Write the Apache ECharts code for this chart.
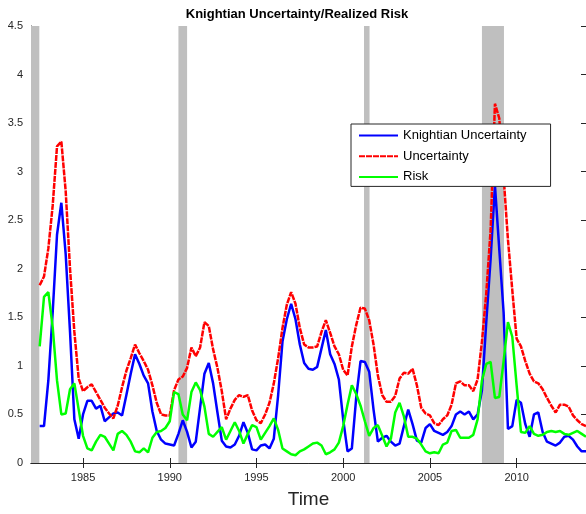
<!DOCTYPE html>
<html>
<head>
<meta charset="utf-8">
<script src="https://cdn.jsdelivr.net/npm/echarts@6/dist/echarts.min.js"></script>
<style>
html,body{margin:0;padding:0;background:#fff;}
#chart{width:586px;height:514px;}
</style>
</head>
<body>
<div id="chart"></div>
<script>
// Quarterly time stamps (decimal years)
var quarters = [
1982.5,1982.75,1983,1983.25,1983.5,1983.75,1984,1984.25,1984.5,1984.75,
1985,1985.25,1985.5,1985.75,1986,1986.25,1986.5,1986.75,1987,1987.25,
1987.5,1987.75,1988,1988.25,1988.5,1988.75,1989,1989.25,1989.5,1989.75,
1990,1990.25,1990.5,1990.75,1991,1991.25,1991.5,1991.75,1992,1992.25,
1992.5,1992.75,1993,1993.25,1993.5,1993.75,1994,1994.25,1994.5,1994.75,
1995,1995.25,1995.5,1995.75,1996,1996.25,1996.5,1996.75,1997,1997.25,
1997.5,1997.75,1998,1998.25,1998.5,1998.75,1999,1999.25,1999.5,1999.75,
2000,2000.25,2000.5,2000.75,2001,2001.25,2001.5,2001.75,2002,2002.25,
2002.5,2002.75,2003,2003.25,2003.5,2003.75,2004,2004.25,2004.5,2004.75,
2005,2005.25,2005.5,2005.75,2006,2006.25,2006.5,2006.75,2007,2007.25,
2007.5,2007.75,2008,2008.25,2008.5,2008.75,2009,2009.25,2009.5,2009.75,
2010,2010.25,2010.5,2010.75,2011,2011.25,2011.5,2011.75,2012,2012.25,
2012.5,2012.75,2013,2013.25,2013.5,2013.75,2014
];

var knightian = [
0.38,0.38,0.85,1.55,2.35,2.68,2.15,1.35,0.45,0.25,
0.50,0.64,0.64,0.56,0.59,0.43,0.47,0.51,0.52,0.49,
0.70,0.92,1.12,1.02,0.90,0.82,0.53,0.33,0.24,0.20,
0.19,0.18,0.30,0.44,0.32,0.16,0.22,0.57,0.92,1.03,
0.82,0.52,0.23,0.17,0.16,0.19,0.28,0.42,0.31,0.14,
0.13,0.18,0.19,0.15,0.25,0.70,1.25,1.48,1.64,1.48,
1.22,1.03,0.97,0.96,0.99,1.18,1.37,1.12,1.02,0.86,
0.45,0.12,0.15,0.67,1.05,1.04,0.94,0.55,0.22,0.26,
0.28,0.22,0.18,0.20,0.38,0.55,0.40,0.23,0.21,0.36,
0.40,0.33,0.31,0.29,0.32,0.38,0.50,0.53,0.50,0.53,
0.45,0.50,0.75,1.45,2.10,2.86,2.20,1.55,0.35,0.38,
0.65,0.62,0.40,0.27,0.50,0.52,0.32,0.22,0.20,0.18,
0.21,0.27,0.28,0.24,0.17,0.12,0.12
];

var uncertainty = [
1.83,1.92,2.21,2.65,3.26,3.31,2.80,2.00,1.35,0.87,
0.74,0.78,0.81,0.73,0.65,0.57,0.51,0.46,0.59,0.78,
0.95,1.08,1.22,1.13,1.05,0.96,0.80,0.62,0.50,0.49,
0.49,0.75,0.86,0.89,0.98,1.19,1.10,1.19,1.45,1.41,
1.17,0.98,0.74,0.45,0.56,0.65,0.70,0.68,0.70,0.54,
0.44,0.41,0.50,0.62,0.82,1.08,1.39,1.63,1.76,1.64,
1.39,1.22,1.19,1.19,1.20,1.35,1.47,1.34,1.20,1.12,
0.96,0.90,1.20,1.42,1.60,1.59,1.47,1.22,0.90,0.70,
0.63,0.63,0.69,0.87,0.93,0.92,0.97,0.80,0.57,0.51,
0.49,0.41,0.39,0.45,0.49,0.60,0.82,0.84,0.80,0.80,
0.74,0.86,1.25,1.75,2.40,3.70,3.55,2.95,2.30,1.78,
1.28,1.20,1.05,0.92,0.84,0.82,0.76,0.67,0.59,0.52,
0.60,0.60,0.58,0.49,0.44,0.40,0.38
];

var risk = [
1.20,1.71,1.76,1.40,0.85,0.50,0.51,0.76,0.82,0.55,
0.28,0.15,0.13,0.22,0.29,0.27,0.20,0.13,0.30,0.33,
0.29,0.22,0.12,0.11,0.15,0.11,0.26,0.32,0.33,0.36,
0.43,0.73,0.71,0.50,0.44,0.73,0.83,0.75,0.58,0.30,
0.27,0.32,0.37,0.24,0.33,0.42,0.33,0.20,0.30,0.39,
0.37,0.24,0.31,0.38,0.46,0.34,0.15,0.12,0.09,0.08,
0.12,0.14,0.17,0.20,0.21,0.18,0.09,0.11,0.14,0.21,
0.38,0.60,0.80,0.71,0.59,0.43,0.28,0.36,0.39,0.28,
0.17,0.25,0.52,0.62,0.48,0.27,0.27,0.25,0.19,0.12,
0.10,0.11,0.10,0.19,0.21,0.33,0.34,0.26,0.26,0.26,
0.29,0.45,0.85,1.02,1.04,0.67,0.68,1.05,1.45,1.30,
0.80,0.32,0.31,0.38,0.30,0.28,0.29,0.32,0.33,0.32,
0.33,0.30,0.29,0.31,0.33,0.30,0.27
];

// Recession periods (start, end) in decimal years
var recessions = [[1982.0, 1982.48], [1990.5, 1991.0], [2001.2, 2001.52], [2008.0, 2009.27]];

var xTickValues = [1985, 1990, 1995, 2000, 2005, 2010];
var seriesNames = ['Knightian Uncertainty', 'Uncertainty', 'Risk'];
var titleText = 'Knightian Uncertainty/Realized Risk';
var xName = 'Time';

function pairs(vals) {
  return vals.map(function (v, i) { return [quarters[i], v]; });
}

var FONT = '"Liberation Sans", Arial, Helvetica, sans-serif';
var AX = '#262626';

var chart = echarts.init(document.getElementById('chart'), null, {renderer: 'canvas'});

var option = {
  animation: false,
  backgroundColor: '#fff',
  textStyle: {fontFamily: FONT},
  graphic: [{
    type: 'text',
    x: 297, y: 14,
    style: {
      text: titleText,
      font: 'bold 13px ' + FONT,
      fill: '#000',
      align: 'center',
      verticalAlign: 'middle'
    }
  }],
  grid: {left: 31, right: -2, top: 26, bottom: 48, containLabel: false},
  legend: {
    data: seriesNames,
    orient: 'vertical',
    left: 351, top: 124,
    backgroundColor: '#fff',
    borderColor: AX,
    borderWidth: 1,
    borderRadius: 0,
    padding: [5, 24, 3, 7],
    itemWidth: 39,
    itemHeight: 14,
    itemGap: 7.7,
    itemStyle: {opacity: 0},
    textStyle: {fontSize: 13, color: '#000', fontFamily: FONT},
    selectedMode: false
  },
  xAxis: [{
    type: 'value',
    min: 1982, max: 2014,
    position: 'bottom',
    name: xName,
    nameLocation: 'middle',
    nameGap: 27,
    nameTextStyle: {fontSize: 19, color: '#262626', fontFamily: FONT},
    axisLine: {show: true, lineStyle: {color: AX, width: 1}},
    axisTick: {show: true, inside: true, length: 5, customValues: xTickValues, lineStyle: {color: AX}},
    axisLabel: {show: true, customValues: xTickValues, margin: 9, fontSize: 11, color: '#262626', fontFamily: FONT,
      formatter: function (v) { return String(v); }},
    splitLine: {show: false}
  }, {
    type: 'value',
    min: 1982, max: 2014,
    position: 'top',
    axisLine: {show: true, lineStyle: {color: AX, width: 1}},
    axisTick: {show: true, inside: true, length: 5, customValues: xTickValues, lineStyle: {color: AX}},
    axisLabel: {show: false},
    splitLine: {show: false}
  }],
  yAxis: [{
    type: 'value',
    min: 0, max: 4.5, interval: 0.5,
    position: 'left',
    axisLine: {show: true, lineStyle: {color: AX, width: 1}},
    axisTick: {show: true, inside: true, length: 5, lineStyle: {color: AX}},
    axisLabel: {show: true, margin: 8, fontSize: 11, color: '#262626', fontFamily: FONT},
    splitLine: {show: false}
  }, {
    type: 'value',
    min: 0, max: 4.5, interval: 0.5,
    position: 'right',
    axisLine: {show: true, lineStyle: {color: AX, width: 1}},
    axisTick: {show: true, inside: true, length: 5, lineStyle: {color: AX}},
    axisLabel: {show: false},
    splitLine: {show: false}
  }],
  series: [{
    name: 'recessions',
    type: 'line',
    data: [],
    z: 1,
    silent: true,
    markArea: {
      silent: true,
      itemStyle: {color: '#bfbfbf', opacity: 1},
      data: recessions.map(function (r) { return [{xAxis: r[0]}, {xAxis: r[1]}]; })
    }
  }, {
    name: seriesNames[0],
    type: 'line',
    data: pairs(knightian),
    symbol: 'none',
    z: 3,
    color: '#0000ff',
    lineStyle: {color: '#0000ff', width: 2.5}
  }, {
    name: seriesNames[1],
    type: 'line',
    data: pairs(uncertainty),
    symbol: 'none',
    z: 3,
    color: '#ff0000',
    lineStyle: {color: '#ff0000', width: 2.5, type: [6, 1]}
  }, {
    name: seriesNames[2],
    type: 'line',
    data: pairs(risk),
    symbol: 'none',
    z: 3,
    color: '#00ff00',
    lineStyle: {color: '#00ff00', width: 2.5}
  }]
};
chart.setOption(option);
</script>
</body>
</html>
